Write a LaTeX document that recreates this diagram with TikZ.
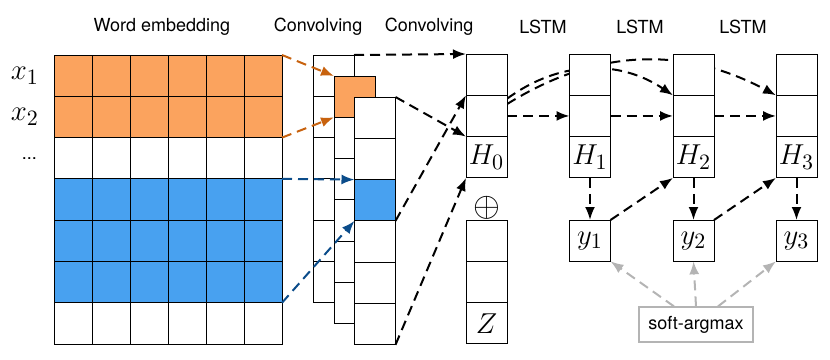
\documentclass[tikz,border=0pt]{standalone}
\usepackage{fontspec}
\setmainfont{TeX Gyre Heros}
\usetikzlibrary{positioning, arrows.meta, backgrounds}
\definecolor{orng}{RGB}{251,163,94}
\definecolor{blu}{RGB}{72,161,240}
\definecolor{orngline}{RGB}{200,98,14}
\definecolor{bluline}{RGB}{11,76,138}
\definecolor{greyline}{RGB}{180,180,180}

\begin{document}
\begin{tikzpicture}[
        x=0.5pt, y=-0.5pt,
        cell/.style  = {draw, fill=white, line width=0.5pt, minimum width=20.5pt, minimum height=20.65pt,
                        inner sep=0pt, outer sep=0pt, font=\fontsize{15}{17}\selectfont},
        ecell/.style = {cell, minimum width=19pt},
        head/.style  = {font=\fontsize{9}{11}\selectfont},
        mth/.style   = {font=\fontsize{15}{17}\selectfont},
        arrow/.style = {-{Latex[length=6.5pt, width=5pt]}, line width=1pt, dash pattern=on 5pt off 3pt},
    ]
    \useasboundingbox (0,0) rectangle (830,359);

    % word embedding grid
    \foreach \r/\f in {1/orng, 2/orng, 3/white, 4/blu, 5/blu, 6/blu, 7/white}
        \foreach \c in {1,...,6}
            \node[ecell, fill=\f] (e\r-\c) at ({73+38*(\c-1)}, {75.65+41.3*(\r-1)}) {};

    % convolving stacks
    \foreach \r in {1,...,6}
        \node[cell] (ca\r) at (333.5, {75.65+41.3*(\r-1)}) {};
    \foreach \r/\f in {1/orng, 2/white, 3/white, 4/white, 5/white, 6/white}
        \node[cell, fill=\f] (cb\r) at (354.5, {96.65+41.3*(\r-1)}) {};
    \foreach \r/\f in {1/white, 2/white, 3/blu, 4/white, 5/white, 6/white}
        \node[cell, fill=\f] (cc\r) at (375, {117.65+41.3*(\r-1)}) {};

    % hidden state columns
    \foreach \k/\xx in {0/486.5, 1/590, 2/693.5, 3/796.5} {
        \node[cell] (h\k-1) at (\xx, 74.65) {};
        \node[cell] (h\k-2) at (\xx, 115.95) {};
        \node[cell] (h\k-3) at (\xx, 157.25) {$H_\k$};
    }
    \node[cell] (z1) at (486.5, 240.65) {};
    \node[cell] (z2) at (486.5, 281.95) {};
    \node[cell] (z3) at (486.5, 323.25) {$Z$};
    \node[font=\fontsize{19}{21}\selectfont] (plus) at (486.5, 208) {$\oplus$};

    % outputs
    \node[cell] (y1) at (590, 240.65)   {$y_1$};
    \node[cell] (y2) at (693.5, 240.65) {$y_2$};
    \node[cell] (y3) at (796.5, 240.65) {$y_3$};
    \node[draw=greyline, line width=0.6pt, minimum width=57pt, minimum height=17.5pt, inner sep=0pt,
          font=\fontsize{9}{11}\selectfont] (sam) at (696, 324.5) {soft-argmax};

    % labels
    \node[head] (t-emb)  at (162, 27) {Word embedding};
    \node[head] (t-conv) at (318, 27) {Convolving};
    \node[head] (t-cnn2) at (429, 27) {Convolving};
    \node[head] (t-l1)   at (543, 27) {LSTM};
    \node[head] (t-l2)   at (640, 27) {LSTM};
    \node[head] (t-l3)   at (743, 27) {LSTM};
    \node[mth, left=4pt of e1-1] (x1) {$x_1$};
    \node[mth, left=4pt of e2-1] (x2) {$x_2$};
    \node[head, left=5pt of e3-1] (dots) {...};

    % connections
    \draw[arrow, orngline] (e1-6.north east) -- (cb1.north west);
    \draw[arrow, orngline] (e2-6.south east) -- (cb1.south west);
    \draw[arrow, bluline] (e4-6.north east) -- (cc3.north west);
    \draw[arrow, bluline] (e6-6.south east) -- (cc3.south west);
    \draw[arrow] (ca1.north east) -- (h0-1.north west);
    \draw[arrow] (cc1.north east) -- (h0-3.north west);
    \draw[arrow] (cc3.south east) -- (h0-2.north west);
    \draw[arrow] (cc6.south east) -- (h0-3.south west);
    \draw[arrow] (h0-2) -- (h1-2);
    \draw[arrow] (h1-2) -- (h2-2);
    \draw[arrow] (h2-2) -- (h3-2);
    \begin{scope}[on background layer]
        \draw[arrow] (h0-2.40) to[bend left=35] (h2-2.north west);
        \draw[arrow] (h0-2.30) to[bend left=30] (h3-2.north west);
    \end{scope}
    \draw[arrow] (h1-3) -- (y1);
    \draw[arrow] (h2-3) -- (y2);
    \draw[arrow] (h3-3) -- (y3);
    \draw[arrow] (y1.north east) -- (h2-3.south west);
    \draw[arrow] (y2.north east) -- (h3-3.south west);
    \draw[arrow, greyline] ([xshift=-11pt]sam.north) -- (y1.south east);
    \draw[arrow, greyline] (sam.north) -- (y2.south);
    \draw[arrow, greyline] ([xshift=11pt]sam.north) -- (y3.south west);
\end{tikzpicture}
\end{document}
